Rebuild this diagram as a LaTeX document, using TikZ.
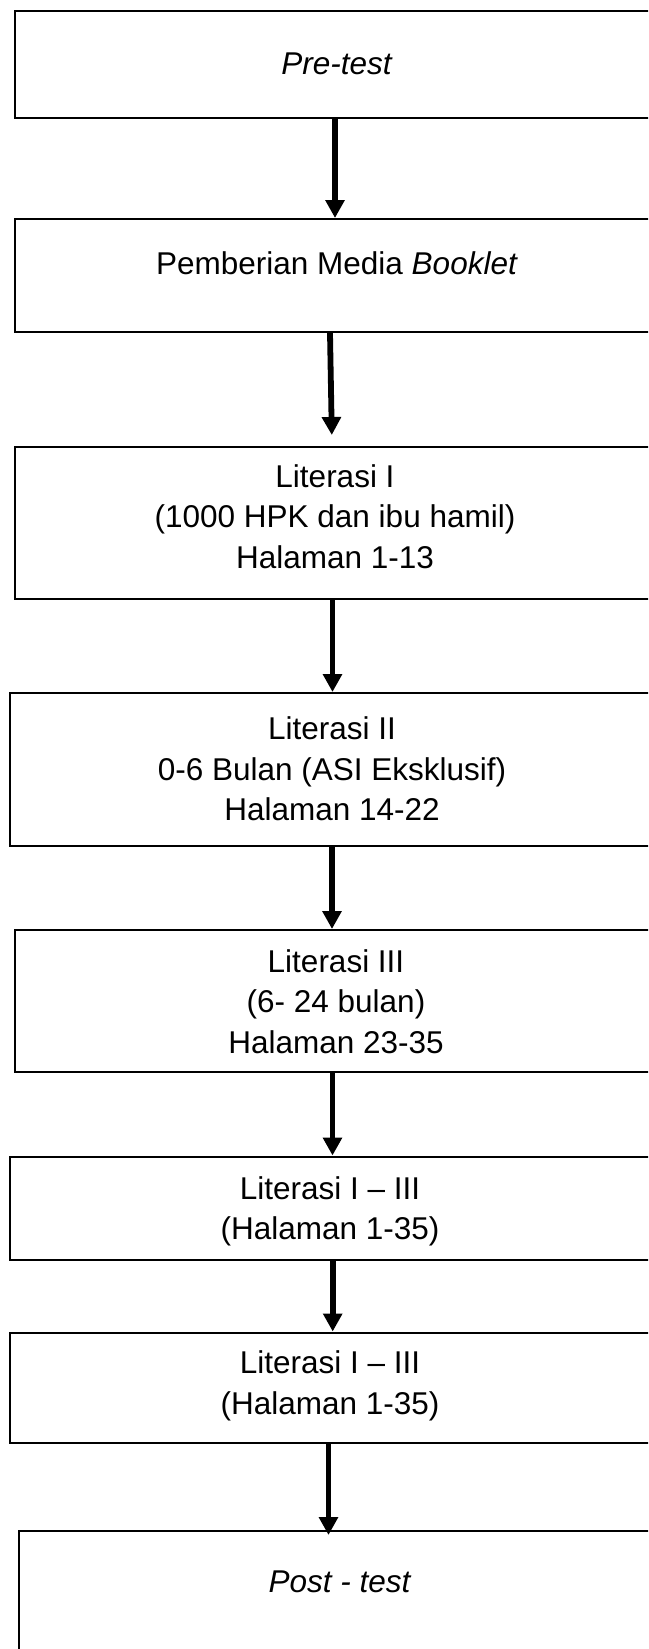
\documentclass[tikz,border=0pt]{standalone}
\usepackage{fontspec}
\setmainfont{Liberation Sans}
\usetikzlibrary{arrows.meta}
\tikzset{
  stagebox/.style={draw=black, line width=2pt, rectangle, inner sep=0pt, anchor=north west},
  stagetext/.style={align=center, inner sep=0pt, text depth=0pt, font=\fontsize{31.5}{40.5}\selectfont},
  flowarrow/.style={line width=5.8pt, -{Triangle[width=18.5pt,length=18pt]}}
}
\begin{document}
\begin{tikzpicture}[x=1pt,y=-1pt]
\useasboundingbox (0,0) rectangle (648,1649);
\clip (0,0) rectangle (648,1649);
\fill[white] (0,0) rectangle (648,1649);
% boxes
\node[stagebox, minimum width=686.5pt, minimum height=107pt] (B1) at (13.5,10) {};
\node[stagebox, minimum width=686.5pt, minimum height=113pt] (B2) at (13.5,218) {};
\node[stagebox, minimum width=686.5pt, minimum height=152pt] (B3) at (13.5,446) {};
\node[stagebox, minimum width=691.5pt, minimum height=153pt] (B4) at (8.5,692) {};
\node[stagebox, minimum width=686.5pt, minimum height=142pt] (B5) at (13.5,929) {};
\node[stagebox, minimum width=691.5pt, minimum height=103.5pt] (B6) at (8.5,1155.5) {};
\node[stagebox, minimum width=691.5pt, minimum height=110.5pt] (B7) at (8.5,1331.5) {};
\node[stagebox, minimum width=682.2pt, minimum height=200pt] (B8) at (17.8,1530) {};
% texts
\node[stagetext] (T1) at (337,64) {\textit{Pre-test}};
\node[stagetext] (T2) at (337,263.5) {Pemberian Media \textit{Booklet}};
\node[stagetext] (T3) at (335,516.5) {Literasi I\\(1000 HPK dan ibu hamil)\\Halaman 1-13};
\node[stagetext] (T4) at (332,768.8) {Literasi II\\0-6 Bulan (ASI Eksklusif)\\Halaman 14-22};
\node[stagetext] (T5) at (336,1001.5) {Literasi III\\(6- 24 bulan)\\Halaman 23-35};
\node[stagetext] (T6) at (330,1208) {Literasi I – III\\(Halaman 1-35)};
\node[stagetext] (T7) at (330,1382.5) {Literasi I – III\\(Halaman 1-35)};
\node[stagetext] (T8) at (340,1581.5) {\textit{Post - test}};
% arrow columns
\coordinate (c1) at (335,0);
\coordinate (c2s) at (330,0);
\coordinate (c2e) at (332,0);
\coordinate (c3) at (332.5,0);
\coordinate (c4) at (332,0);
\coordinate (c5) at (332.5,0);
\coordinate (c6) at (332.7,0);
\coordinate (c7) at (328.5,0);
% arrows
\draw[flowarrow] (c1 |- B1.south) -- (c1 |- B2.north);
\draw[flowarrow, shorten >=11pt] (c2s |- B2.south) -- (c2e |- B3.north);
\draw[flowarrow] (c3 |- B3.south) -- (c3 |- B4.north);
\draw[flowarrow] (c4 |- B4.south) -- (c4 |- B5.north);
\draw[flowarrow] (c5 |- B5.south) -- (c5 |- B6.north);
\draw[flowarrow] (c6 |- B6.south) -- (c6 |- B7.north);
\draw[flowarrow, shorten >=-5pt] (c7 |- B7.south) -- (c7 |- B8.north);
\end{tikzpicture}
\end{document}
